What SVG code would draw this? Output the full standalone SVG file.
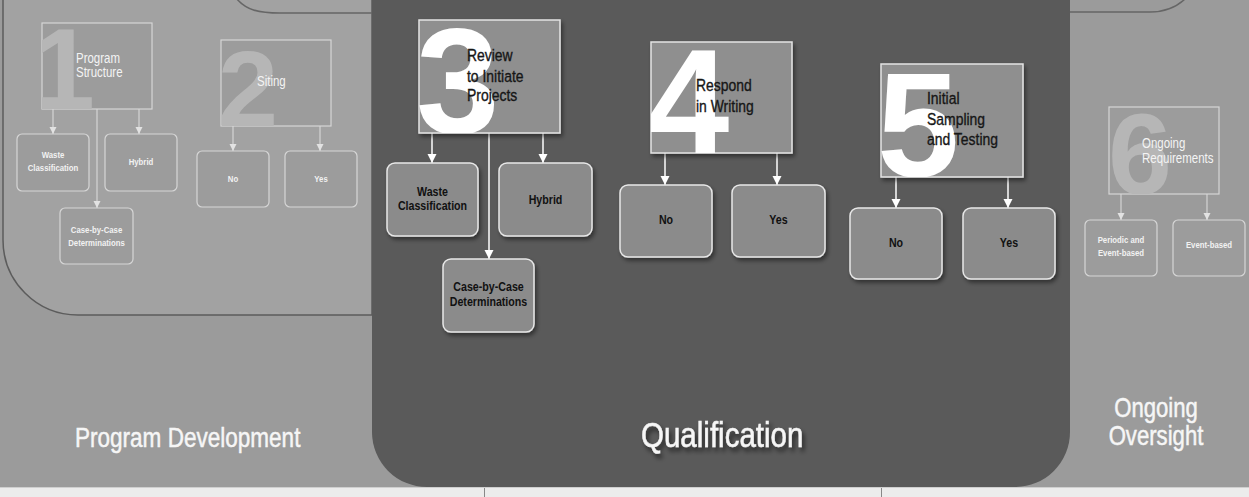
<svg xmlns="http://www.w3.org/2000/svg" width="1249" height="497" viewBox="0 0 1249 497">
<defs>
<style>
.nar{font-family:"Liberation Sans",Arial,sans-serif;}
.big{font-family:"Liberation Sans",Arial,sans-serif;font-weight:bold;}
.fbox{fill:#9c9c9c;stroke:#d6d6d6;stroke-width:1.2}
.fdig{fill:#b6b6b6}
.ftxt{fill:#f4f4f4;font-size:14px}
.fsm{fill:#f2f2f2;font-size:9.5px;font-weight:bold;text-anchor:middle}
.mbox{fill:#8f8f8f;stroke:#e4e4e4;stroke-width:1.5}
.cbox{fill:#8b8b8b;stroke:#e8e8e8;stroke-width:1.5}
.mdig{fill:#ffffff}
.mtxt{fill:#161616;font-size:17px;stroke:#161616;stroke-width:0.35}
.ctxt{fill:#111111;font-size:13px;font-weight:bold;text-anchor:middle}
.ln{stroke:#ffffff;stroke-width:1.5;fill:none}
.fln{stroke:#dedede;stroke-width:1;fill:none}
.title{fill:#f6f6f6;stroke:#f6f6f6;stroke-width:0.5}
</style>
<marker id="ah" viewBox="0 0 10 10" refX="10" refY="5" markerWidth="9" markerHeight="10" orient="auto" markerUnits="userSpaceOnUse"><path d="M0,0 L10,5 L0,10 z" fill="#ffffff"/></marker>
<marker id="fah" viewBox="0 0 10 10" refX="10" refY="5" markerWidth="7" markerHeight="8" orient="auto" markerUnits="userSpaceOnUse"><path d="M0,0 L10,5 L0,10 z" fill="#e2e2e2"/></marker>
<filter id="sh" x="-15%" y="-15%" width="140%" height="140%"><feDropShadow dx="2" dy="3" stdDeviation="2" flood-color="#000" flood-opacity="0.45"/></filter>
<filter id="tsh" x="-10%" y="-30%" width="130%" height="170%"><feDropShadow dx="3" dy="4" stdDeviation="2.5" flood-color="#000" flood-opacity="0.6"/></filter>
<clipPath id="c1"><rect x="42" y="23" width="110" height="86"/></clipPath>
<clipPath id="c2"><rect x="221" y="40" width="110" height="86"/></clipPath>
<clipPath id="c3"><rect x="419" y="20" width="141" height="113"/></clipPath>
<clipPath id="c4"><rect x="651" y="42" width="141" height="111"/></clipPath>
<clipPath id="c5"><rect x="881" y="64" width="142" height="113"/></clipPath>
<clipPath id="c6"><rect x="1109" y="107" width="110" height="87"/></clipPath>
</defs>

<g id="background">
<rect x="0" y="0" width="1249" height="497" fill="#9b9b9b"/>
<path d="M3,-2 V240 A75,75 0 0 0 78,315 H372 V-2 Z" fill="#a2a2a2" stroke="#5c5c5c" stroke-width="1.5"/>
<path d="M236,-2 C246,10 258,13 280,13 H372" fill="none" stroke="#666666" stroke-width="1.5"/>
<path d="M1070,12 H1150 C1168,12 1178,6 1186,-2" fill="none" stroke="#666666" stroke-width="1.5"/>
<path d="M372,-2 H1070 V432 A55,55 0 0 1 1015,487 H427 A55,55 0 0 1 372,432 Z" fill="#5a5a5a"/>
<rect x="0" y="487" width="1249" height="10" fill="#ececec"/>
<line x1="0" y1="487.5" x2="1249" y2="487.5" stroke="#cfcfcf" stroke-width="1"/>
<line x1="484.5" y1="488" x2="484.5" y2="497" stroke="#888888" stroke-width="1"/>
<line x1="881.5" y1="488" x2="881.5" y2="497" stroke="#888888" stroke-width="1"/>
</g>

<g id="connectors">
<path class="fln" d="M53,109 V134" marker-end="url(#fah)"/>
<path class="fln" d="M97,109 V208" marker-end="url(#fah)"/>
<path class="fln" d="M139,109 V134" marker-end="url(#fah)"/>
<path class="fln" d="M233,126 V151" marker-end="url(#fah)"/>
<path class="fln" d="M320,126 V151" marker-end="url(#fah)"/>
<path class="ln" d="M432,133 V163" marker-end="url(#ah)"/>
<path class="ln" d="M489,133 V259" marker-end="url(#ah)"/>
<path class="ln" d="M543,133 V163" marker-end="url(#ah)"/>
<path class="ln" d="M665,153 V185" marker-end="url(#ah)"/>
<path class="ln" d="M777,153 V185" marker-end="url(#ah)"/>
<path class="ln" d="M896,177 V208" marker-end="url(#ah)"/>
<path class="ln" d="M1008,177 V208" marker-end="url(#ah)"/>
<path class="fln" d="M1121,194 V220" marker-end="url(#fah)"/>
<path class="fln" d="M1207,194 V220" marker-end="url(#fah)"/>
</g>

<g id="node-1">
<rect class="fbox" x="42" y="23" width="110" height="86"/>
<text class="big fdig" x="31" y="109" font-size="115" clip-path="url(#c1)">1</text>
<g transform="translate(76,0) scale(0.82,1)"><text class="nar ftxt"><tspan x="0" y="63">Program</tspan><tspan x="0" y="77">Structure</tspan></text></g>
</g>
<g id="node-waste-1">
<rect class="fbox" x="17" y="134" width="72" height="57" rx="5"/>
<g transform="translate(53,0) scale(0.82,1)"><text class="nar fsm"><tspan x="0" y="158">Waste</tspan><tspan x="0" y="171">Classification</tspan></text></g>
</g>
<g id="node-hybrid-1">
<rect class="fbox" x="105" y="134" width="72" height="57" rx="5"/>
<g transform="translate(141,0) scale(0.82,1)"><text class="nar fsm" x="0" y="165">Hybrid</text></g>
</g>
<g id="node-case-1">
<rect class="fbox" x="60" y="208" width="73" height="56" rx="5"/>
<g transform="translate(96.5,0) scale(0.82,1)"><text class="nar fsm"><tspan x="0" y="233.5">Case-by-Case</tspan><tspan x="0" y="246.5">Determinations</tspan></text></g>
</g>

<g id="node-2">
<rect class="fbox" x="221" y="40" width="110" height="86"/>
<text class="big fdig" x="218" y="126" font-size="108" clip-path="url(#c2)">2</text>
<g transform="translate(257,0) scale(0.82,1)"><text class="nar ftxt" x="0" y="86">Siting</text></g>
</g>
<g id="node-no-2">
<rect class="fbox" x="197" y="151" width="72" height="56" rx="5"/>
<g transform="translate(233,0) scale(0.82,1)"><text class="nar fsm" x="0" y="182.5">No</text></g>
</g>
<g id="node-yes-2">
<rect class="fbox" x="285" y="151" width="72" height="56" rx="5"/>
<g transform="translate(321,0) scale(0.82,1)"><text class="nar fsm" x="0" y="182.5">Yes</text></g>
</g>

<g id="node-3">
<rect class="mbox" x="419" y="20" width="141" height="113" filter="url(#sh)"/>
<text class="big mdig" x="416" y="133" font-size="150" clip-path="url(#c3)">3</text>
<g transform="translate(467,0) scale(0.82,1)"><text class="nar mtxt"><tspan x="0" y="61">Review</tspan><tspan x="0" y="82">to Initiate</tspan><tspan x="0" y="101">Projects</tspan></text></g>
</g>
<g id="node-waste-3">
<rect class="cbox" x="387" y="163" width="91" height="73" rx="8" filter="url(#sh)"/>
<g transform="translate(432.5,0) scale(0.82,1)"><text class="nar ctxt"><tspan x="0" y="196.5">Waste</tspan><tspan x="0" y="210.5">Classification</tspan></text></g>
</g>
<g id="node-hybrid-3">
<rect class="cbox" x="499" y="163" width="93" height="73" rx="8" filter="url(#sh)"/>
<g transform="translate(545.5,0) scale(0.82,1)"><text class="nar ctxt" x="0" y="204.5">Hybrid</text></g>
</g>
<g id="node-case-3">
<rect class="cbox" x="443" y="259" width="91" height="73" rx="8" filter="url(#sh)"/>
<g transform="translate(488.5,0) scale(0.82,1)"><text class="nar ctxt"><tspan x="0" y="291.5">Case-by-Case</tspan><tspan x="0" y="306.5">Determinations</tspan></text></g>
</g>

<g id="node-4">
<rect class="mbox" x="651" y="42" width="141" height="111" filter="url(#sh)"/>
<text class="big mdig" x="647" y="153" font-size="148" clip-path="url(#c4)">4</text>
<g transform="translate(696,0) scale(0.82,1)"><text class="nar mtxt"><tspan x="0" y="91">Respond</tspan><tspan x="0" y="112">in Writing</tspan></text></g>
</g>
<g id="node-no-4">
<rect class="cbox" x="620" y="185" width="92" height="72" rx="8" filter="url(#sh)"/>
<g transform="translate(666,0) scale(0.82,1)"><text class="nar ctxt" x="0" y="224.5">No</text></g>
</g>
<g id="node-yes-4">
<rect class="cbox" x="732" y="185" width="93" height="72" rx="8" filter="url(#sh)"/>
<g transform="translate(778.5,0) scale(0.82,1)"><text class="nar ctxt" x="0" y="224.5">Yes</text></g>
</g>

<g id="node-5">
<rect class="mbox" x="881" y="64" width="142" height="113" filter="url(#sh)"/>
<text class="big mdig" x="877" y="177" font-size="148" clip-path="url(#c5)">5</text>
<g transform="translate(927,0) scale(0.82,1)"><text class="nar mtxt"><tspan x="0" y="104">Initial</tspan><tspan x="0" y="125">Sampling</tspan><tspan x="0" y="145">and Testing</tspan></text></g>
</g>
<g id="node-no-5">
<rect class="cbox" x="850" y="208" width="92" height="71" rx="8" filter="url(#sh)"/>
<g transform="translate(896,0) scale(0.82,1)"><text class="nar ctxt" x="0" y="247.5">No</text></g>
</g>
<g id="node-yes-5">
<rect class="cbox" x="963" y="208" width="92" height="71" rx="8" filter="url(#sh)"/>
<g transform="translate(1009,0) scale(0.82,1)"><text class="nar ctxt" x="0" y="247.5">Yes</text></g>
</g>

<g id="node-6">
<rect class="fbox" x="1109" y="107" width="110" height="87"/>
<text class="big fdig" x="1108" y="194" font-size="115" clip-path="url(#c6)">6</text>
<g transform="translate(1142,0) scale(0.82,1)"><text class="nar ftxt" font-size="13.5"><tspan x="0" y="148">Ongoing</tspan><tspan x="0" y="163">Requirements</tspan></text></g>
</g>
<g id="node-periodic-6">
<rect class="fbox" x="1085" y="220" width="72" height="56" rx="5"/>
<g transform="translate(1121,0) scale(0.82,1)"><text class="nar fsm"><tspan x="0" y="243.5">Periodic and</tspan><tspan x="0" y="256.5">Event-based</tspan></text></g>
</g>
<g id="node-event-6">
<rect class="fbox" x="1173" y="220" width="72" height="56" rx="5"/>
<g transform="translate(1209,0) scale(0.82,1)"><text class="nar fsm" x="0" y="248.5">Event-based</text></g>
</g>

<g id="titles">
<g transform="translate(75,0) scale(0.82,1)"><text class="nar title" x="0" y="447" font-size="27.5">Program Development</text></g>
<g transform="translate(641,0) scale(0.82,1)"><text class="nar title" x="0" y="447" font-size="36" filter="url(#tsh)">Qualification</text></g>
<g transform="translate(1156,0) scale(0.82,1)"><text class="nar title" font-size="27" text-anchor="middle"><tspan x="0" y="417">Ongoing</tspan><tspan x="0" y="445">Oversight</tspan></text></g>
</g>
</svg>
